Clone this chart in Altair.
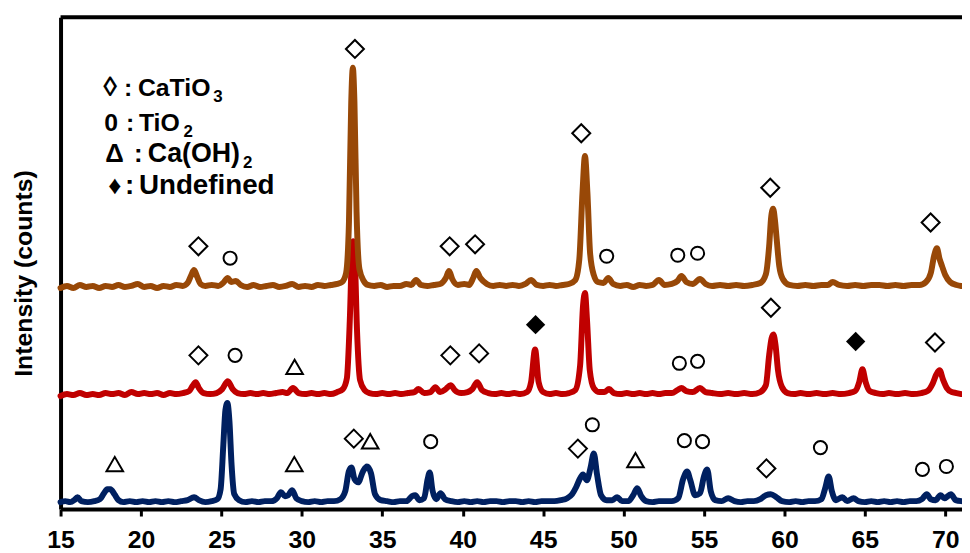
import altair as alt
import pandas as pd

# ---- XRD traces (2-theta in degrees, displayed intensity in arbitrary stacked units) ----
brown_trace = [
    (15.0,223),(15.4,225),(15.8,223),(16.2,226),(16.6,224),(17.0,225),(17.4,223),(17.8,225),(18.2,224),(18.6,226),
    (19.0,224),(19.4,225),(19.8,227),(20.2,224),(20.6,225),(21.0,223),(21.4,225),(21.8,224),(22.2,226),(22.6,225),
    (22.9,228),(23.1,235),(23.3,241),(23.5,234),(23.7,227),(24.0,225),(24.4,226),(24.8,225),(25.1,228),(25.4,233),
    (25.6,229),(25.9,230),(26.2,226),(26.6,224),(27.0,226),(27.4,224),(27.8,225),(28.2,226),(28.6,224),(29.0,225),
    (29.4,227),(29.8,224),(30.2,225),(30.6,224),(31.0,226),(31.4,225),(31.8,226),(32.2,227),(32.5,229),(32.75,238),
    (32.93,290),(33.07,410),(33.17,445),(33.27,410),(33.4,300),(33.58,242),(33.85,230),(34.1,226),(34.5,225),(34.9,226),
    (35.3,224),(35.7,225),(36.1,225),(36.5,227),(36.8,226),(37.1,231),(37.4,226),(37.8,225),(38.2,226),(38.6,227),
    (38.95,233),(39.15,240),(39.35,232),(39.7,226),(40.1,227),(40.4,226),(40.65,233),(40.85,240),(41.1,233),(41.5,227),
    (41.9,225),(42.3,226),(42.7,225),(43.1,226),(43.5,225),(43.9,227),(44.25,231),(44.6,226),(45.0,225),(45.4,226),
    (45.8,225),(46.2,226),(46.6,227),(47.0,231),(47.25,252),(47.45,320),(47.6,356),(47.75,320),(47.92,258),(48.15,236),
    (48.4,229),(48.75,228),(49.05,233),(49.35,227),(49.8,225),(50.2,226),(50.6,224),(51.0,226),(51.4,225),(51.8,226),
    (52.2,231),(52.55,226),(53.0,227),(53.35,230),(53.6,235),(53.9,229),(54.3,227),(54.75,232),(55.1,227),(55.5,225),
    (56.0,226),(56.5,225),(57.0,226),(57.5,225),(58.0,226),(58.5,228),(58.85,237),(59.05,265),(59.18,295),(59.3,303),
    (59.42,290),(59.52,272),(59.68,245),(59.9,232),(60.3,226),(60.8,225),(61.3,226),(61.8,225),(62.3,226),(62.7,226),
    (63.0,229),(63.4,226),(63.9,225),(64.4,226),(64.9,225),(65.4,226),(65.9,226),(66.4,225),(66.9,226),(67.4,225),
    (67.9,226),(68.4,226),(68.8,229),(69.1,238),(69.3,255),(69.48,263),(69.65,252),(69.8,245),(70.0,236),(70.3,229),
    (70.7,226),(71.0,225),
]

red_trace = [
    (15.0,114),(15.4,116),(15.8,115),(16.2,117),(16.6,115),(17.0,116),(17.4,115),(17.8,117),(18.2,116),(18.6,117),
    (19.0,115),(19.4,118),(19.8,116),(20.2,117),(20.6,116),(21.0,117),(21.4,115),(21.8,117),(22.2,116),(22.6,117),
    (23.0,119),(23.2,124),(23.4,128),(23.6,122),(23.9,117),(24.3,116),(24.7,117),(25.05,121),(25.4,129),(25.7,121),
    (26.0,117),(26.4,116),(26.8,117),(27.2,116),(27.6,117),(28.0,116),(28.4,117),(28.8,118),(29.1,117),(29.45,122),
    (29.8,117),(30.2,116),(30.6,117),(31.0,116),(31.4,117),(31.8,116),(32.2,118),(32.55,121),(32.8,132),(32.98,190),
    (33.11,255),(33.2,270),(33.29,255),(33.43,180),(33.62,130),(33.9,120),(34.2,117),(34.6,116),(35.0,117),(35.4,116),
    (35.8,117),(36.2,116),(36.6,117),(37.0,118),(37.25,121),(37.6,117),(38.0,118),(38.3,123),(38.6,118),(38.95,121),
    (39.25,125),(39.5,120),(39.9,117),(40.3,118),(40.6,121),(40.9,128),(41.2,120),(41.6,117),(42.0,116),(42.4,117),
    (42.8,116),(43.2,117),(43.6,116),(44.0,118),(44.25,128),(44.5,161),(44.72,128),(45.0,118),(45.4,116),(45.8,117),
    (46.2,116),(46.6,117),(47.0,120),(47.3,145),(47.48,205),(47.6,218),(47.73,190),(47.9,140),(48.15,122),(48.5,118),
    (48.8,118),(49.1,121),(49.4,117),(49.8,116),(50.2,117),(50.6,116),(51.0,117),(51.4,116),(51.8,117),(52.2,116),
    (52.6,117),(53.0,117),(53.35,120),(53.6,122),(53.9,119),(54.3,118),(54.75,122),(55.1,118),(55.5,117),(56.0,116),
    (56.5,117),(57.0,116),(57.5,117),(58.0,116),(58.5,118),(58.85,125),(59.05,155),(59.2,172),(59.32,176),(59.45,165),
    (59.6,140),(59.85,123),(60.2,117),(60.6,116),(61.0,117),(61.5,116),(62.0,117),(62.5,116),(63.0,117),(63.5,116),
    (64.0,117),(64.4,119),(64.65,128),(64.85,141),(65.05,128),(65.3,119),(65.7,117),(66.1,116),(66.5,117),(67.0,116),
    (67.5,117),(68.0,116),(68.5,117),(68.9,119),(69.2,126),(69.45,136),(69.65,140),(69.85,131),(70.1,122),(70.4,118),
    (70.7,117),(71.0,116),
]

navy_trace = [
    (15.0,7),(15.3,8),(15.6,7),(15.85,9),(16.05,12),(16.3,8),(16.7,7),(17.1,8),(17.45,10),(17.7,16),
    (17.9,20),(18.1,20),(18.35,15),(18.6,9),(18.9,7),(19.3,8),(19.7,7),(20.1,8),(20.5,7),(20.9,8),
    (21.3,7),(21.7,8),(22.1,7),(22.5,8),(22.9,9),(23.3,12),(23.6,9),(24.0,7),(24.4,8),(24.75,10),
    (24.95,20),(25.12,65),(25.25,100),(25.37,107),(25.5,88),(25.63,45),(25.8,15),(26.1,9),(26.5,7),(26.9,8),
    (27.3,7),(27.7,8),(28.1,8),(28.45,11),(28.7,17),(28.95,13),(29.15,14),(29.4,19),(29.65,11),(30.0,8),
    (30.4,7),(30.8,8),(31.2,7),(31.6,8),(32.0,8),(32.4,10),(32.7,18),(32.92,38),(33.08,42),(33.28,30),
    (33.5,27),(33.8,38),(34.05,43),(34.3,36),(34.55,15),(34.9,9),(35.3,8),(35.7,7),(36.1,8),(36.5,8),
    (36.85,13),(37.05,14),(37.3,9),(37.6,11),(37.82,30),(37.95,37),(38.12,19),(38.35,10),(38.62,16),(38.9,10),
    (39.3,8),(39.7,7),(40.1,8),(40.5,7),(40.9,8),(41.3,7),(41.7,8),(42.1,8),(42.5,7),(42.9,8),
    (43.3,8),(43.7,7),(44.1,8),(44.5,7),(44.9,8),(45.3,8),(45.7,8),(46.1,9),(46.5,11),(46.8,15),
    (47.05,22),(47.3,31),(47.48,35),(47.72,29),(47.95,42),(48.15,56),(48.35,35),(48.6,14),(48.95,9),(49.3,9),
    (49.6,12),(49.9,8),(50.3,8),(50.6,14),(50.85,21),(51.1,13),(51.4,8),(51.8,7),(52.2,8),(52.6,8),
    (53.0,8),(53.4,11),(53.7,30),(53.95,38),(54.15,29),(54.45,14),(54.75,16),(55.0,33),(55.2,40),(55.42,18),
    (55.7,9),(56.1,8),(56.5,11),(56.9,8),(57.3,7),(57.7,8),(58.1,8),(58.5,10),(58.85,14),(59.15,15),
    (59.5,12),(59.85,8),(60.3,7),(60.7,8),(61.1,7),(61.5,8),(61.9,8),(62.3,10),(62.55,22),(62.75,33),
    (62.95,18),(63.2,9),(63.6,12),(63.9,8),(64.3,11),(64.6,8),(65.0,7),(65.4,8),(65.8,7),(66.2,8),
    (66.6,7),(67.0,8),(67.4,7),(67.8,8),(68.2,8),(68.55,10),(68.85,15),(69.1,10),(69.4,9),(69.7,14),
    (69.95,11),(70.35,15),(70.65,9),(71.0,8),
]

# ---- phase markers (2-theta, displayed height) ----
catio3_marks = [(23.57,265),(33.3,464),(39.19,265),(40.77,267),(47.37,379),(59.12,324),(69.09,289),
                (23.57,155),(39.23,155),(41.02,157),(59.16,203),(69.36,168),
                (33.23,71),(47.16,61),(58.88,41)]
tio2_marks = [(25.54,253),(48.95,255),(53.37,256),(54.6,258),
              (25.85,155),(53.47,147),(54.6,149),
              (38.01,68),(48.06,85),(53.78,69),(54.91,68),(62.24,62),(68.58,40),(70.07,43)]
caoh2_marks = [(29.55,146),(18.37,48),(29.53,48),(34.25,71),(50.74,52)]
undefined_marks = [(44.53,186),(64.43,169)]

x_ticks = [15, 20, 25, 30, 35, 40, 45, 50, 55, 60, 65, 70]

# legend texts: (text, x px, baseline y px, font size) relative to plot area
legend_items = [
    ("\u25ca", 43, 79, 28), (":", 64, 79, 25), ("CaTiO", 78, 79, 25), ("3", 154, 85, 17),
    ("0", 44, 115, 25), (":", 66, 115, 25), ("TiO", 79, 115, 25), ("2", 124, 121, 17),
    ("\u0394", 45, 146, 26), (":", 74, 146, 26), ("Ca(OH)", 88, 146, 27), ("2", 184, 152, 17),
    ("\u2666", 48, 178, 26), (":", 65, 178, 28), ("Undefined", 79, 178, 28),
]

BROWN, RED, NAVY = "#984807", "#C00000", "#002060"
FONT = "Liberation Sans"
W, H = 909, 496

def frame(pairs):
    return pd.DataFrame(pairs, columns=["two_theta", "counts"])

xscale = alt.Scale(domain=[15, 71.04], nice=False, zero=False)
yscale = alt.Scale(domain=[0, 496], nice=False, zero=False)

x_axis = alt.Axis(values=x_ticks, title=None, grid=False, domainWidth=4, domainColor="black",
                  tickWidth=3, tickSize=7, tickColor="black", labelFont=FONT, labelFontSize=25,
                  labelFontWeight="bold", labelColor="black", labelPadding=12, labelFlush=False,
                  labelOverlap=False)
y_axis = alt.Axis(title="Intensity (counts)", labels=False, ticks=False, grid=False, domainWidth=4,
                  domainColor="black", titleFont=FONT, titleFontSize=25, titleFontWeight="bold",
                  titleColor="black", titleX=-37, titleY=258, titleBaseline="middle",
                  titleAlign="center", titleAngle=270)

X_ENC = alt.X("two_theta:Q", scale=xscale, axis=x_axis)
Y_ENC = alt.Y("counts:Q", scale=yscale, axis=y_axis)

def trace(pairs, color):
    return alt.Chart(frame(pairs)).mark_line(
        color=color, strokeWidth=6, interpolate="monotone", strokeJoin="round", strokeCap="round"
    ).encode(x=X_ENC, y=Y_ENC)

def markers(pairs, shape, size, filled=False, y_offset=0):
    props = dict(shape=shape, size=size, color="black", opacity=1, strokeWidth=2, filled=filled)
    if y_offset:
        props["yOffset"] = y_offset
    return alt.Chart(frame(pairs)).mark_point(**props).encode(x=X_ENC, y=Y_ENC)

top_border = alt.Chart(pd.DataFrame({"k": [0]})).mark_rule(color="black", strokeWidth=4).encode(
    x=alt.value(0), x2=alt.value(W), y=alt.value(0)
)

leg_df = pd.DataFrame(legend_items, columns=["t", "px", "py", "fs"])
legend = alt.Chart(leg_df).mark_text(
    align="left", baseline="alphabetic", font=FONT, fontWeight="bold", color="black"
).encode(
    x=alt.X("px:Q", scale=None), y=alt.Y("py:Q", scale=None),
    text="t:N", size=alt.Size("fs:Q", scale=None),
)

chart = alt.layer(
    trace(navy_trace, NAVY),
    trace(red_trace, RED),
    trace(brown_trace, BROWN),
    markers(catio3_marks, "diamond", 330),
    markers(tio2_marks, "circle", 175),
    markers(caoh2_marks, "triangle-up", 280, y_offset=2.6),
    markers(undefined_marks, "diamond", 380, filled=True),
    top_border,
    legend,
).properties(
    width=W, height=H,
    padding={"left": 53, "top": 7, "right": 0, "bottom": 42},
    autosize=alt.AutoSizeParams(type="none"),
    background="white",
).configure_view(stroke=None)

chart.save("out.html", embed_options={"renderer": "svg", "actions": False})
